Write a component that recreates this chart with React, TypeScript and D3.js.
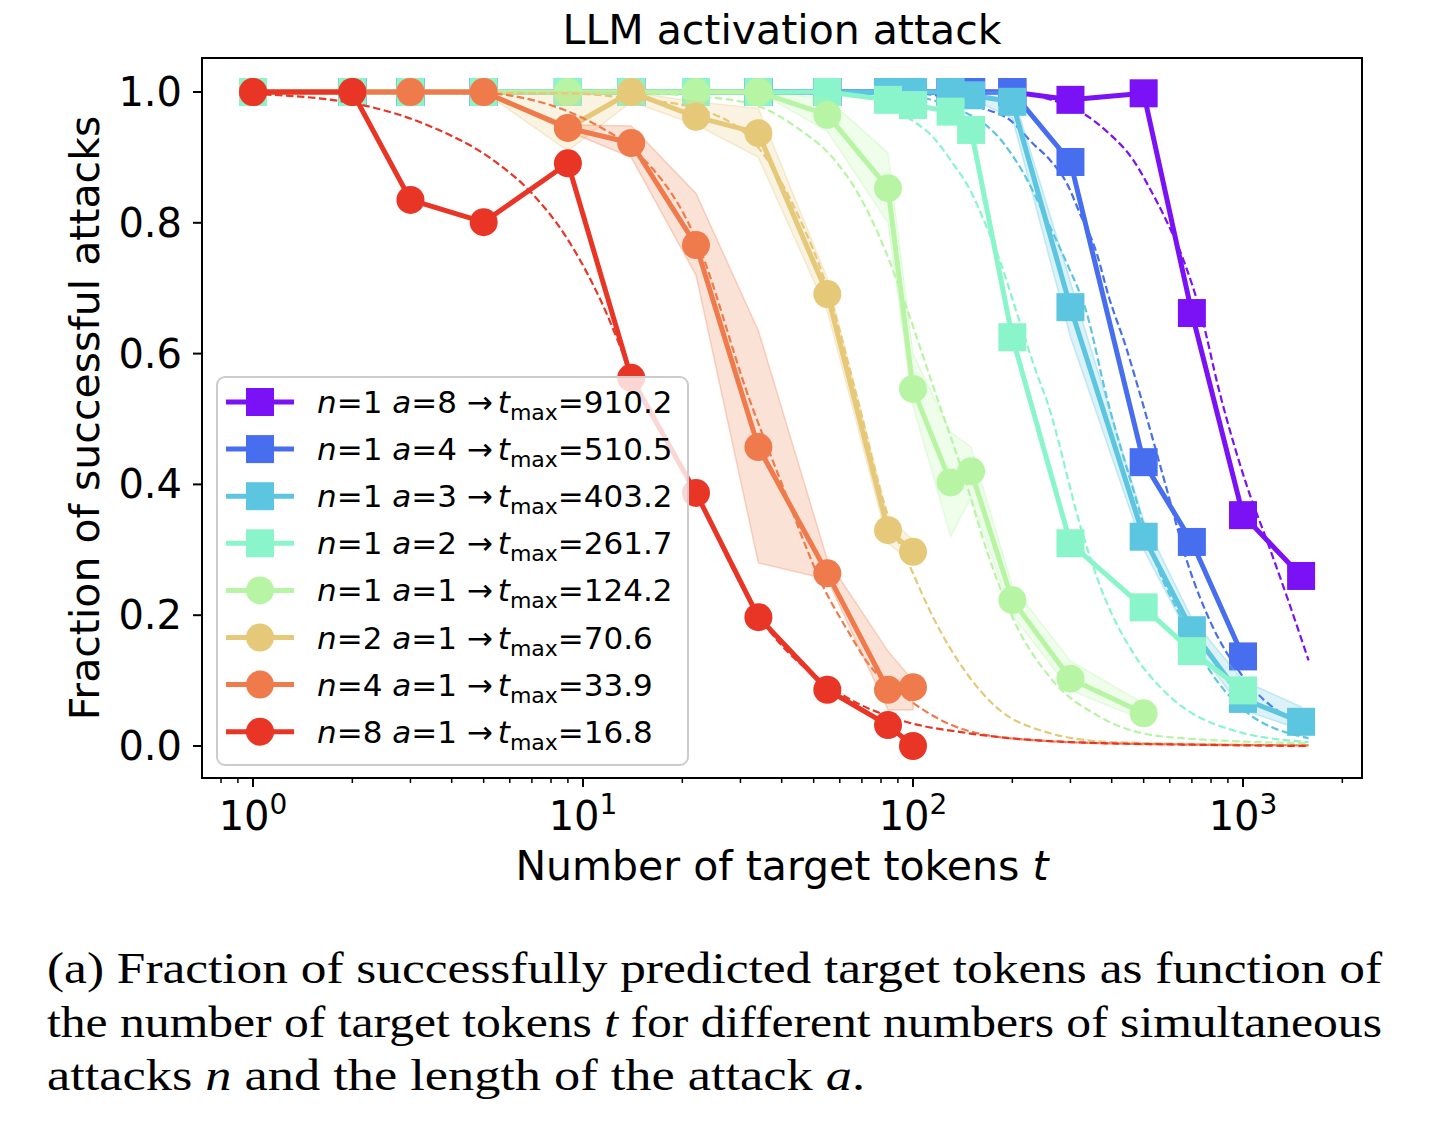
import React from "react";
import * as d3 from "d3";

// target token counts used for the measurements
const T = [1, 2, 3, 5, 9, 14, 22, 34, 55, 84, 100, 130, 150, 200, 300, 500, 700, 1000, 1500];

// measured fraction of successful attacks (legend order)
const n1a8 = [1, 1, 1, 1, 1, 1, 1, 1, 1, 1, 1, 1, 1, 1, 0.988, 0.998, 0.662, 0.353, 0.26];
const n1a4 = [1, 1, 1, 1, 1, 1, 1, 1, 1, 1, 1, 1, 1, 1, 0.893, 0.434, 0.312, 0.137];
const n1a3 = [1, 1, 1, 1, 1, 1, 1, 1, 1, 1, 1, 1, 0.995, 0.985, 0.671, 0.32, 0.177, 0.072, 0.037];
const n1a2 = [1, 1, 1, 1, 1, 1, 1, 1, 1, 0.988, 0.98, 0.97, 0.942, 0.625, 0.31, 0.212, 0.145, 0.085];
const n1a1 = [1, 1, 1, 1, 1, 1, 1, 1, 0.965, 0.853, 0.546, 0.403, 0.42, 0.223, 0.103, 0.05];
const n2a1 = [1, 1, 1, 1, 0.945, 1, 0.962, 0.937, 0.691, 0.33, 0.297];
const n4a1 = [1, 1, 1, 1, 0.945, 0.922, 0.766, 0.457, 0.264, 0.086, 0.09];
const n8a1 = [1, 1, 0.835, 0.801, 0.891, 0.563, 0.387, 0.197, 0.086, 0.032, 0];

// shaded spread (low / high)
const n1a3Lo = [1, 1, 1, 1, 1, 1, 1, 1, 1, 1, 1, 1, 0.99, 0.96, 0.625, 0.3, 0.16, 0.055, 0.025];
const n1a3Hi = [1, 1, 1, 1, 1, 1, 1, 1, 1, 1, 1, 1, 1, 1, 0.71, 0.345, 0.195, 0.1, 0.06];
const n1a1Lo = [1, 1, 1, 1, 1, 1, 1, 1, 0.94, 0.8, 0.52, 0.32, 0.38, 0.2, 0.085, 0.04];
const n1a1Hi = [1, 1, 1, 1, 1, 1, 1, 1, 0.99, 0.907, 0.6, 0.48, 0.457, 0.245, 0.13, 0.065];
const n2a1Lo = [1, 1, 1, 1, 0.91, 0.985, 0.95, 0.9, 0.665, 0.31, 0.28];
const n2a1Hi = [1, 1, 1, 1, 1, 1, 0.985, 0.975, 0.715, 0.35, 0.315];
const n4a1Lo = [1, 1, 1, 1, 0.94, 0.9, 0.72, 0.28, 0.255, 0.055, 0.055];
const n4a1Hi = [1, 1, 1, 1, 0.95, 0.948, 0.845, 0.635, 0.285, 0.145, 0.1];

// fitted curves as [t, value]
const fitN1a8 = [[1, 1], [200, 0.999], [246, 0.992], [326, 0.968], [392, 0.937], [465, 0.896], [525, 0.85], [585, 0.804], [660, 0.743], [740, 0.667], [850, 0.54], [1030, 0.396], [1190, 0.31], [1370, 0.223], [1580, 0.131]];
const fitN1a4 = [[1, 1], [100, 0.998], [163, 0.975], [197, 0.957], [230, 0.922], [260, 0.896], [292, 0.861], [320, 0.815], [360, 0.754], [392, 0.687], [442, 0.61], [490, 0.534], [585, 0.396], [675, 0.284], [810, 0.182], [980, 0.112], [1360, 0.044], [1580, 0.028]];
const fitN1a3 = [[1, 1], [84, 0.997], [145, 0.968], [183, 0.929], [211, 0.885], [260, 0.794], [292, 0.739], [336, 0.662], [386, 0.534], [460, 0.4], [550, 0.274], [640, 0.203], [780, 0.121], [980, 0.06], [1580, 0.012]];
const fitN1a2 = [[1, 1], [55, 0.999], [81, 0.988], [96, 0.962], [115, 0.931], [132, 0.891], [149, 0.85], [167, 0.794], [183, 0.743], [211, 0.647], [237, 0.57], [254, 0.529], [326, 0.326], [370, 0.243], [465, 0.142], [585, 0.081], [933, 0.024], [1580, 0.006]];
const fitN1a1 = [[1, 1], [14, 0.998], [24, 0.992], [34.5, 0.977], [45.5, 0.942], [57, 0.9], [69, 0.84], [83, 0.754], [93, 0.687], [118, 0.534], [145, 0.402], [167, 0.3], [200, 0.197], [260, 0.105], [370, 0.044], [585, 0.014], [1580, 0.004]];
const fitN2a1 = [[1, 1], [9, 0.998], [14, 0.99], [22, 0.975], [34, 0.915], [45, 0.81], [55, 0.7], [68, 0.529], [83, 0.36], [98, 0.274], [115, 0.197], [145, 0.112], [183, 0.055], [243, 0.024], [400, 0.006], [1580, 0.001]];
const fitN4a1 = [[1, 1], [5, 0.998], [7, 0.988], [11.3, 0.946], [14, 0.915], [22, 0.775], [32, 0.529], [39.6, 0.407], [53.5, 0.243], [64, 0.173], [72, 0.131], [100, 0.066], [145, 0.024], [230, 0.009], [500, 0.003], [1580, 0.001]];
const fitN8a1 = [[1, 0.997], [2, 0.983], [3.5, 0.946], [5.2, 0.9], [7, 0.845], [8.9, 0.778], [11.3, 0.682], [13.9, 0.575], [22, 0.385], [34, 0.2], [60, 0.081], [91, 0.04], [145, 0.02], [300, 0.006], [700, 0.002], [1580, 0.0]];

const N_VALS = [1, 1, 1, 1, 1, 2, 4, 8];
const A_VALS = [8, 4, 3, 2, 1, 1, 1, 1];
const TMAX = ["910.2", "510.5", "403.2", "261.7", "124.2", "70.6", "33.9", "16.8"];
const COLORS = ["#7b12f5", "#486ef0", "#5cc5e0", "#8af5ca", "#b7f5a4", "#e6c879", "#ef7a4b", "#e83526"];
const MARKERS = ["s", "s", "s", "s", "o", "o", "o", "o"];

const CAPTION = [
  "(a) Fraction of successfully predicted target tokens as function of",
  "the number of target tokens t for different numbers of simultaneous",
  "attacks n and the length of the attack a.",
];

type Pt = { t: number; v: number };

const values = [n1a8, n1a4, n1a3, n1a2, n1a1, n2a1, n4a1, n8a1];
const bands: ([number[], number[]] | null)[] = [null, null, [n1a3Lo, n1a3Hi], null, [n1a1Lo, n1a1Hi], [n2a1Lo, n2a1Hi], [n4a1Lo, n4a1Hi], null];
const fits = [fitN1a8, fitN1a4, fitN1a3, fitN1a2, fitN1a1, fitN2a1, fitN4a1, fitN8a1];

const SERIES = values.map((vals, i) => ({
  color: COLORS[i],
  marker: MARKERS[i],
  pts: vals.map((v, j) => ({ t: T[j], v })) as Pt[],
  band: bands[i] ? bands[i]![0].map((lo, j) => ({ t: T[j], lo, hi: bands[i]![1][j] })) : null,
  fit: fits[i].map(([t, v]) => ({ t, v })) as Pt[],
}));

const W = 1434;
const H = 1136;
const L = 202, R = 1362, TOP = 58, BOT = 778;
const FONT = "'DejaVu Sans', sans-serif";

const x = d3.scaleLog().domain([Math.pow(10, -51 / 330), Math.pow(10, 1109 / 330)]).range([L, R]);
const y = d3.scaleLinear().domain([0, 1]).range([746, 92]);

const line = d3.line<Pt>().x((d) => x(d.t)).y((d) => y(d.v));
const fitLine = d3.line<Pt>().x((d) => x(d.t)).y((d) => y(d.v)).curve(d3.curveMonotoneX);
const area = d3
  .area<{ t: number; lo: number; hi: number }>()
  .x((d) => x(d.t))
  .y0((d) => y(d.lo))
  .y1((d) => y(d.hi));

const Marker = ({ kind, cx, cy, color }: { kind: string; cx: number; cy: number; color: string }) =>
  kind === "s" ? (
    <rect x={cx - 14} y={cy - 14} width={28} height={28} fill={color} />
  ) : (
    <circle cx={cx} cy={cy} r={14} fill={color} />
  );

const App: React.FC = () => {
  const [d0, d1] = x.domain();
  const majors = [1, 10, 100, 1000];
  const minors: number[] = [];
  for (let e = -1; e <= 3; e++) {
    for (let k = 2; k <= 9; k++) {
      const v = k * Math.pow(10, e);
      if (v >= d0 && v <= d1) minors.push(v);
    }
  }
  const yTicks = [0, 0.2, 0.4, 0.6, 0.8, 1.0];

  return (
    <svg width={W} height={H} style={{ position: "absolute", left: 0, top: 0, background: "#fff" }} fontFamily={FONT}>
      <defs>
        <clipPath id="plot">
          <rect x={L} y={TOP} width={R - L} height={BOT - TOP} />
        </clipPath>
      </defs>

      <text x={(L + R) / 2} y={44} textAnchor="middle" fontSize={41}>
        LLM activation attack
      </text>

      <g clipPath="url(#plot)">
        {SERIES.map((s, i) => (
          <g key={i}>
            {s.band && (
              <path d={area(s.band)!} fill={s.color} fillOpacity={0.22} stroke={s.color} strokeOpacity={0.3} strokeWidth={1.5} />
            )}
            <path d={line(s.pts)!} fill="none" stroke={s.color} strokeWidth={5} strokeLinejoin="round" />
            {s.pts.map((p, j) => (
              <Marker key={j} kind={s.marker} cx={x(p.t)} cy={y(p.v)} color={s.color} />
            ))}
            <path d={fitLine(s.fit)!} fill="none" stroke={s.color} strokeWidth={2.2} strokeDasharray="7.5 3.5" />
          </g>
        ))}
      </g>

      {/* legend */}
      <g>
        <rect x={217} y={377} width={471} height={388} rx={8} fill="#fff" fillOpacity={0.8} stroke="#cccccc" strokeWidth={2} />
        {SERIES.map((s, i) => {
          const cy = 402 + i * 47.1;
          return (
            <g key={i}>
              <line x1={226} x2={294} y1={cy} y2={cy} stroke={s.color} strokeWidth={5} />
              <Marker kind={s.marker} cx={260} cy={cy} color={s.color} />
              <text x={317} y={cy + 11} fontSize={31}>
                <tspan fontStyle="italic">n</tspan>
                {`=${N_VALS[i]} `}
                <tspan fontStyle="italic">a</tspan>
                {`=${A_VALS[i]} →`}
                <tspan fontStyle="italic" dx={5}>t</tspan>
                <tspan fontSize={22} dy={7}>max</tspan>
                <tspan dy={-7}>{`=${TMAX[i]}`}</tspan>
              </text>
            </g>
          );
        })}
      </g>

      {/* frame */}
      <rect x={L} y={TOP} width={R - L} height={BOT - TOP} fill="none" stroke="#000" strokeWidth={2} />

      {/* y axis */}
      {yTicks.map((v) => (
        <g key={v}>
          <line x1={L - 9} x2={L} y1={y(v)} y2={y(v)} stroke="#000" strokeWidth={2} />
          <text x={L - 20} y={y(v) + 14} textAnchor="end" fontSize={40}>
            {v.toFixed(1)}
          </text>
        </g>
      ))}
      <text transform={`translate(99,${(TOP + BOT) / 2}) rotate(-90)`} textAnchor="middle" fontSize={41}>
        Fraction of successful attacks
      </text>

      {/* x axis */}
      {minors.map((v) => (
        <line key={v} x1={x(v)} x2={x(v)} y1={BOT} y2={BOT + 5} stroke="#000" strokeWidth={1.5} />
      ))}
      {majors.map((v, i) => (
        <g key={v}>
          <line x1={x(v)} x2={x(v)} y1={BOT} y2={BOT + 9} stroke="#000" strokeWidth={2} />
          <text x={x(v)} y={830} textAnchor="middle" fontSize={40}>
            10
            <tspan fontSize={28} dy={-16}>
              {i}
            </tspan>
          </text>
        </g>
      ))}
      <text x={(L + R) / 2} y={880} textAnchor="middle" fontSize={41}>
        Number of target tokens <tspan fontStyle="italic">t</tspan>
      </text>

      {/* caption */}
      <g fontFamily="'Liberation Serif', 'DejaVu Serif', serif" fontSize={44}>
        <text x={47} y={983} textLength={1335} lengthAdjust="spacingAndGlyphs">
          {CAPTION[0]}
        </text>
        <text x={47} y={1037} textLength={1335} lengthAdjust="spacingAndGlyphs">
          {"the number of target tokens "}
          <tspan fontStyle="italic">t</tspan>
          {" for different numbers of simultaneous"}
        </text>
        <text x={47} y={1090} textLength={818} lengthAdjust="spacingAndGlyphs">
          {"attacks "}
          <tspan fontStyle="italic">n</tspan>
          {" and the length of the attack "}
          <tspan fontStyle="italic">a</tspan>
          {"."}
        </text>
      </g>
    </svg>
  );
};

export default App;
